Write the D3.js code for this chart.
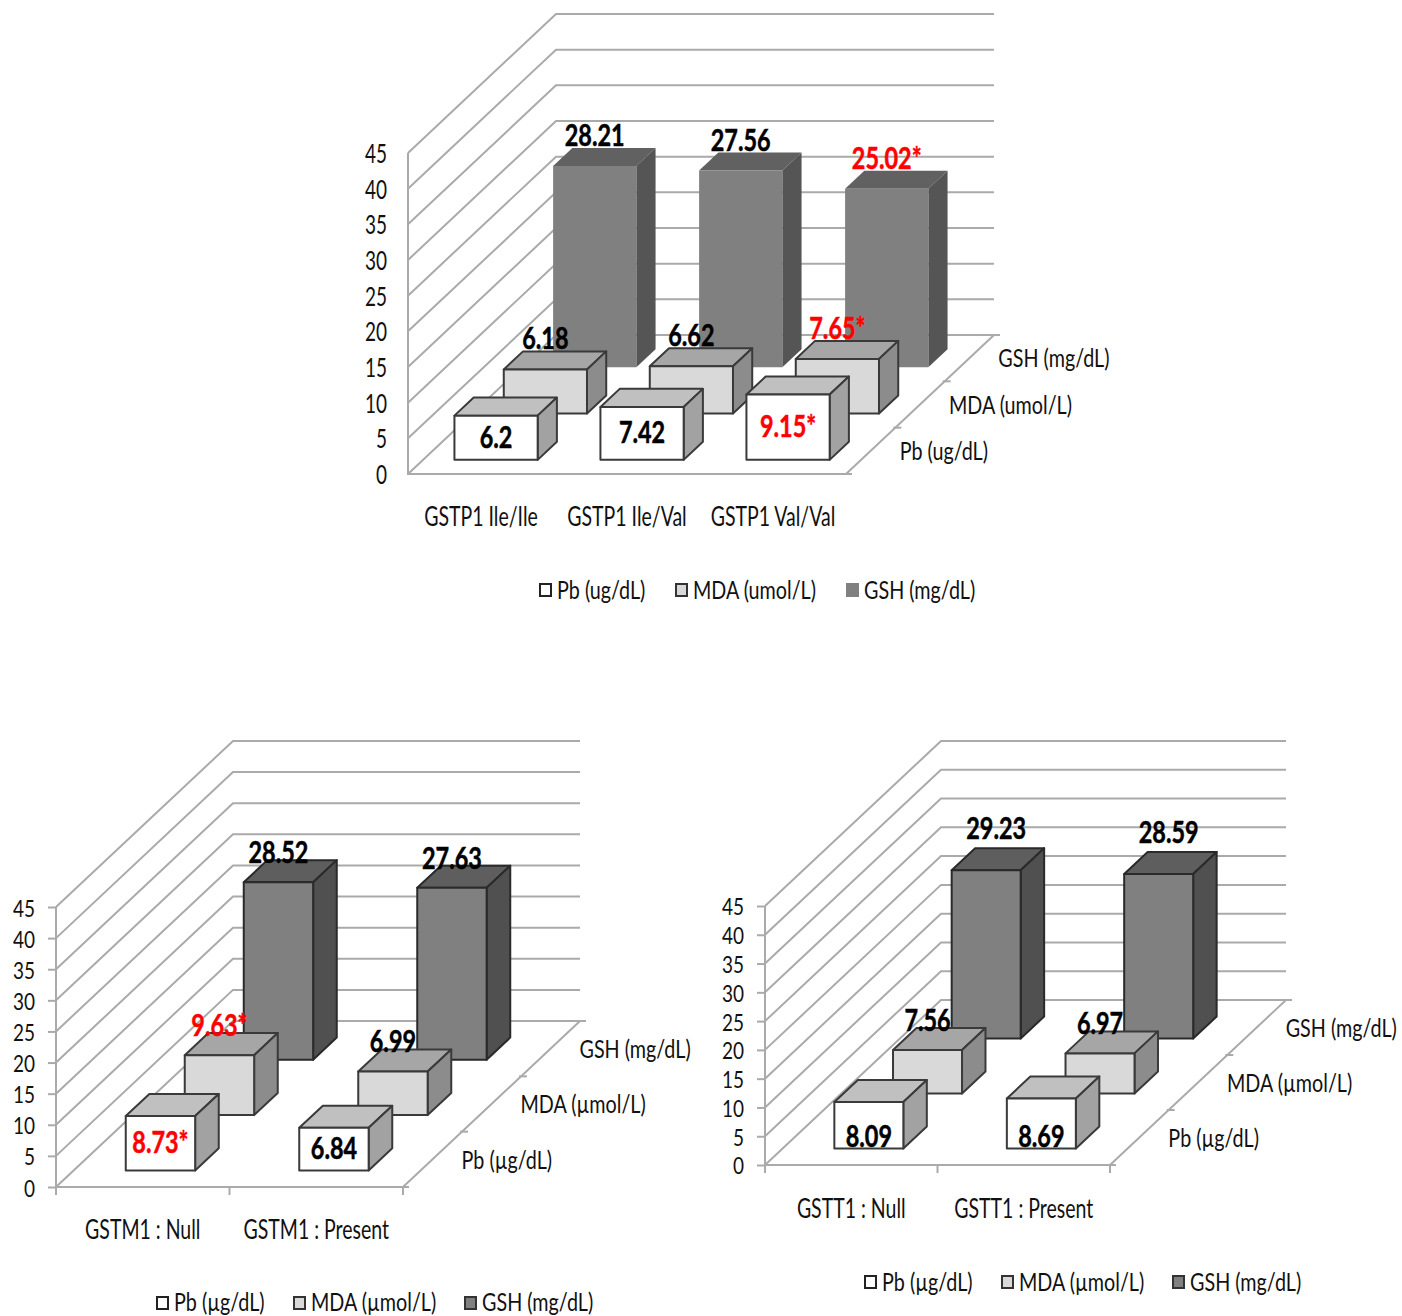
<!DOCTYPE html>
<html>
<head>
<meta charset="utf-8">
<script src="https://cdn.jsdelivr.net/npm/d3@7"></script>
<style>
  html, body { margin: 0; background: #fff; }
  svg { display: block; }
  text { font-family: Lato, "Noto Sans", sans-serif; fill: #111; }
</style>
</head>
<body>
<div id="chart"></div>
<script>
const valueTicks = [0, 5, 10, 15, 20, 25, 30, 35, 40, 45];

const gstp1Categories = ["GSTP1 Ile/Ile", "GSTP1 Ile/Val", "GSTP1 Val/Val"];
const gstp1Series = ["Pb (ug/dL)", "MDA (umol/L)", "GSH (mg/dL)"];
const gstp1Pb = [6.2, 7.42, 9.15];
const gstp1Mda = [6.18, 6.62, 7.65];
const gstp1Gsh = [28.21, 27.56, 25.02];
const gstp1Starred = [[false, false, true], [false, false, true], [false, false, true]];

const gstm1Categories = ["GSTM1 : Null", "GSTM1 : Present"];
const gstm1Series = ["Pb (µg/dL)", "MDA (µmol/L)", "GSH (mg/dL)"];
const gstm1Pb = [8.73, 6.84];
const gstm1Mda = [9.63, 6.99];
const gstm1Gsh = [28.52, 27.63];
const gstm1Starred = [[true, false], [true, false], [false, false]];

const gstt1Categories = ["GSTT1 : Null", "GSTT1 : Present"];
const gstt1Series = ["Pb (µg/dL)", "MDA (µmol/L)", "GSH (mg/dL)"];
const gstt1Pb = [8.09, 8.69];
const gstt1Mda = [7.56, 6.97];
const gstt1Gsh = [29.23, 28.59];
const gstt1Starred = [[false, false], [false, false], [false, false]];

const gridColor = "#aaaaaa";
const edgeColor = "#3a3a3a";

const svg = d3.select("#chart").append("svg")
	.attr("width", 1402)
	.attr("height", 1316);

const polyLine = d3.line();

function drawChart(c) {
	const g = svg.append("g");
	const seriesValues = [c.pb, c.mda, c.gsh];

	// front plane of the box
	const x = d3.scaleBand().domain(c.categories)
		.range([c.left, c.right])
		.paddingInner(c.gapX).paddingOuter(c.gapX / 2);
	const y = d3.scaleLinear().domain([0, 45]).range([c.bottom, c.top]);

	// depth goes from 0 (front) to 1 (back) and shears the drawing up and right
	const depth = d3.scaleBand().domain(c.series).range([0, 1])
		.paddingInner(c.gapZ).paddingOuter(c.gapZ / 2);
	const px = (xv, z) => xv + z * c.depthX;
	const py = (yv, z) => yv - z * c.depthY;

	// walls and gridlines
	const grid = g.append("g");
	grid.selectAll("path.wall").data(valueTicks).join("path")
		.attr("class", "wall")
		.attr("fill", "none")
		.attr("stroke", gridColor)
		.attr("stroke-width", 2)
		.attr("d", v => polyLine([
			[c.left, y(v)],
			[px(c.left, 1), py(y(v), 1)],
			[px(c.right, 1), py(y(v), 1)]
		]));
	grid.append("path")
		.attr("fill", "none")
		.attr("stroke", gridColor)
		.attr("stroke-width", 2)
		.attr("d", polyLine([
			[c.left, y(45)],
			[c.left, y(0)],
			[c.right, y(0)],
			[px(c.right, 1), py(y(0), 1)]
		]));

	// small ticks on the depth edge
	grid.selectAll("line.depth-tick").data([0, 1 / 3, 2 / 3, 1]).join("line")
		.attr("class", "depth-tick")
		.attr("x1", z => px(c.right, z) - 2)
		.attr("x2", z => px(c.right, z) + 6)
		.attr("y1", z => py(y(0), z))
		.attr("y2", z => py(y(0), z))
		.attr("stroke", gridColor)
		.attr("stroke-width", 2);

	if (c.tickLen > 0) {
		const step = x.step();
		grid.selectAll("line.cat-tick").data(d3.range(c.categories.length + 1)).join("line")
			.attr("class", "cat-tick")
			.attr("x1", i => c.left + i * step)
			.attr("x2", i => c.left + i * step)
			.attr("y1", y(0))
			.attr("y2", y(0) + c.tickLen)
			.attr("stroke", gridColor)
			.attr("stroke-width", 2);
	}

	// value axis, only the labels and ticks, the line is drawn above
	const axisY = g.append("g")
		.attr("transform", "translate(" + c.left + ",0)")
		.call(d3.axisLeft(y).tickValues(valueTicks).tickSize(c.tickLen).tickPadding(c.yPad));
	axisY.select(".domain").remove();
	axisY.selectAll("line").attr("stroke", gridColor).attr("stroke-width", 2);
	axisY.selectAll("text").attr("font-size", c.tickFont).attr("font-family", null)
		.attr("class", "squeeze tick-label")
		.attr("dy", 3).attr("dominant-baseline", "middle");

	// category labels under the box
	const axisX = g.append("g")
		.attr("transform", "translate(0," + c.bottom + ")")
		.call(d3.axisBottom(x).tickSize(0).tickPadding(c.xPad));
	axisX.select(".domain").remove();
	axisX.selectAll("text").attr("font-size", c.fontSize).attr("dy", 2).attr("dominant-baseline", "middle")
		.attr("class", "squeeze cat-label");

	// series labels along the depth edge
	g.selectAll("text.series").data(c.series).join("text")
		.attr("class", "series squeeze")
		.attr("x", s => px(c.right, depth(s) + depth.bandwidth() / 2) + 29)
		.attr("y", s => py(y(0), depth(s) + depth.bandwidth() / 2) + 3)
		.attr("font-size", c.legendFont)
		.attr("dominant-baseline", "middle")
		.text(s => s);

	// bars, from the back row to the front so that the front ones cover them
	const labels = [];
	d3.range(c.series.length - 1, -1, -1).forEach(si => {
		const style = c.barStyles[si];
		const z0 = depth(c.series[si]);
		const z1 = z0 + depth.bandwidth();
		c.categories.forEach((cat, ci) => {
			const v = seriesValues[si][ci];
			const x0 = x(cat);
			const x1 = x0 + x.bandwidth();
			const base = y(0);
			const top = y(v);
			const bar = g.append("g")
				.attr("stroke", style.stroke)
				.attr("stroke-width", 2)
				.attr("stroke-linejoin", "round");
			bar.append("path").attr("fill", style.top).attr("d", polyLine([
				[px(x0, z0), py(top, z0)],
				[px(x1, z0), py(top, z0)],
				[px(x1, z1), py(top, z1)],
				[px(x0, z1), py(top, z1)]
			]) + "Z");
			bar.append("path").attr("fill", style.side).attr("d", polyLine([
				[px(x1, z0), py(top, z0)],
				[px(x1, z1), py(top, z1)],
				[px(x1, z1), py(base, z1)],
				[px(x1, z0), py(base, z0)]
			]) + "Z");
			bar.append("path").attr("fill", style.face).attr("d", polyLine([
				[px(x0, z0), py(top, z0)],
				[px(x1, z0), py(top, z0)],
				[px(x1, z0), py(base, z0)],
				[px(x0, z0), py(base, z0)]
			]) + "Z");

			// Pb labels sit on the front face, the rest stand on the back edge of the top
			let labelY = py(top, z1) + c.labelDy;
			let labelX = px(x0 + x.bandwidth() / 2, z0) + c.labelDx;
			if (si === 0) {
				labelY = c.pbLabelLow ? py(base, z0) - 1 : (py(top, z0) + py(base, z0)) / 2 + 10;
			}
			if (si === 2) {
				labelX += c.gshShift[0];
				labelY += c.gshShift[1];
			}
			labels.push({
				x: labelX,
				y: labelY,
				text: v + (c.starred[si][ci] ? "*" : ""),
				red: c.starred[si][ci]
			});
		});
	});

	g.selectAll("text.value").data(labels).join("text")
		.attr("class", "value squeeze")
		.attr("x", d => d.x)
		.attr("y", d => d.y)
		.attr("text-anchor", "middle")
		.attr("font-size", 30)
		.attr("font-weight", 700)
		.style("fill", d => d.red ? "#ff0000" : "#000")
		.style("stroke", d => d.red ? "#ff0000" : "#000")
		.style("stroke-width", 0.5)
		.text(d => d.text);

	// legend
	const legend = g.selectAll("g.legend").data(c.series).join("g")
		.attr("class", "legend")
		.attr("transform", (s, i) => "translate(" + c.legendX[i] + "," + c.legendY + ")");
	legend.append("rect")
		.attr("x", 1).attr("y", -6)
		.attr("width", 11).attr("height", 12)
		.attr("fill", (s, i) => c.barStyles[i].face)
		.attr("stroke", (s, i) => c.barStyles[i].legendStroke)
		.attr("stroke-width", 2);
	legend.append("text")
		.attr("class", "squeeze")
		.attr("x", 18)
		.attr("y", c.legendTextDy)
		.attr("font-size", c.legendFont)
		.attr("dominant-baseline", "middle")
		.text(s => s);
}

const topStyles = [
	{ face: "#ffffff", top: "#c0c0c0", side: "#a2a2a2", stroke: edgeColor, legendStroke: "#222" },
	{ face: "#d9d9d9", top: "#a6a6a6", side: "#8c8c8c", stroke: edgeColor, legendStroke: "#333" },
	{ face: "#808080", top: "#616161", side: "#555555", stroke: "none", legendStroke: "#808080" }
];
const lowerStyles = [
	topStyles[0],
	topStyles[1],
	{ face: "#808080", top: "#5e5e5e", side: "#505050", stroke: "#2a2a2a", legendStroke: "#333" }
];

drawChart({
	categories: gstp1Categories, series: gstp1Series,
	pb: gstp1Pb, mda: gstp1Mda, gsh: gstp1Gsh, starred: gstp1Starred,
	barStyles: topStyles,
	left: 408, right: 846, bottom: 474, top: 153,
	depthX: 148, depthY: 139,
	gapX: 0.43, gapZ: 0.61,
	tickLen: 0, yPad: 21, xPad: 43, fontSize: 26, tickFont: 26, legendFont: 25, legendTextDy: 3, pbLabelLow: false,
	labelDx: 0, labelDy: -2, gshShift: [0, 0],
	legendX: [539, 675, 846], legendY: 590
});

drawChart({
	categories: gstm1Categories, series: gstm1Series,
	pb: gstm1Pb, mda: gstm1Mda, gsh: gstm1Gsh, starred: gstm1Starred,
	barStyles: lowerStyles,
	left: 56, right: 403, bottom: 1187, top: 907,
	depthX: 177, depthY: 166,
	gapX: 0.6, gapZ: 0.6,
	tickLen: 8, yPad: 13, xPad: 43, fontSize: 26, tickFont: 24, legendFont: 25, legendTextDy: 2, pbLabelLow: false,
	labelDx: 0, labelDy: 3, gshShift: [0, 0],
	legendX: [156, 293, 464], legendY: 1303
});

drawChart({
	categories: gstt1Categories, series: gstt1Series,
	pb: gstt1Pb, mda: gstt1Mda, gsh: gstt1Gsh, starred: gstt1Starred,
	barStyles: lowerStyles,
	left: 765, right: 1110, bottom: 1165, top: 906,
	depthX: 176, depthY: 165,
	gapX: 0.6, gapZ: 0.6,
	tickLen: 8, yPad: 13, xPad: 44, fontSize: 26, tickFont: 23.5, legendFont: 25, legendTextDy: 3, pbLabelLow: true,
	labelDx: 0, labelDy: 3, gshShift: [10, -12],
	legendX: [864, 1001, 1172], legendY: 1282
});

// the original font is narrower than Lato, squeeze every label horizontally around its anchor
svg.selectAll("text.squeeze").each(function() {
	const t = d3.select(this);
	let ratio = 0.79; // legend and series labels
	if (t.classed("value")) ratio = 0.78;
	if (t.classed("tick-label")) ratio = 19 / parseFloat(t.attr("font-size"));
	if (t.classed("cat-label")) ratio = 0.75;
	const ax = +t.attr("x") || 0;
	t.attr("transform", "translate(" + ax + ",0) scale(" + ratio + ",1) translate(" + (-ax) + ",0)");
});
</script>
</body>
</html>
